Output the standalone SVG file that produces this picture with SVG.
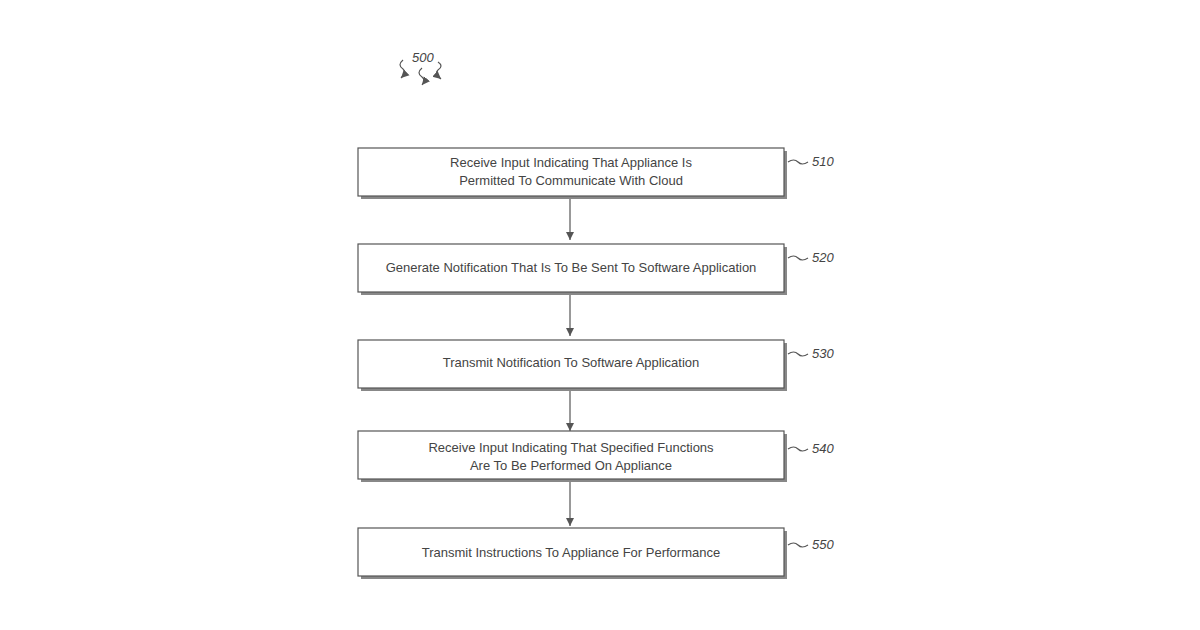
<svg xmlns="http://www.w3.org/2000/svg" width="1200" height="630" viewBox="0 0 1200 630">
<style>
.box{fill:#fff;stroke:#555;stroke-width:1.2}
.sh{fill:#888}
.t{font-family:"Liberation Sans",Arial,sans-serif;font-size:13px;fill:#444;text-anchor:middle}
.r{font-family:"Liberation Sans",Arial,sans-serif;font-size:13px;font-style:italic;fill:#444}
.c{fill:none;stroke:#555;stroke-width:1.2}
</style>
<defs><marker id="a" markerWidth="10" markerHeight="10" refX="8" refY="5" orient="auto" markerUnits="userSpaceOnUse"><path d="M0,1 L8,5 L0,9 z" fill="#555"/></marker></defs>
<rect width="1200" height="630" fill="#fff"/>
<g id="ref500">
<text class="r" x="412" y="62">500</text>
<path class="c" d="M403,60 q-6,5 0,9 q4,3 -2,9" marker-end="url(#a)"/>
<path class="c" d="M422,68 q-6,5 0,9 q4,3 0,8" marker-end="url(#a)"/>
<path class="c" d="M438,62 q6,4 0,8 q-4,3 3,9" marker-end="url(#a)"/>
</g>
<g id="connectors">
<path class="c" d="M570,196 V240" marker-end="url(#a)"/>
<path class="c" d="M570,292 V336" marker-end="url(#a)"/>
<path class="c" d="M570,388 V431" marker-end="url(#a)"/>
<path class="c" d="M570,482 V526" marker-end="url(#a)"/>
</g>
<g id="n510"><rect class="sh" x="361" y="151" width="426" height="48"/><rect class="box" x="358" y="148" width="426" height="48"/>
<text class="t" x="571" y="167">Receive Input Indicating That Appliance Is</text><text class="t" x="571" y="185">Permitted To Communicate With Cloud</text>
<path class="c" d="M788,162 q6,-4 10,0 t10,0"/><text class="r" x="812" y="166">510</text></g>
<g id="n520"><rect class="sh" x="361" y="247" width="426" height="48"/><rect class="box" x="358" y="244" width="426" height="48"/>
<text class="t" x="571" y="272">Generate Notification That Is To Be Sent To Software Application</text>
<path class="c" d="M788,258 q6,-4 10,0 t10,0"/><text class="r" x="812" y="262">520</text></g>
<g id="n530"><rect class="sh" x="361" y="343" width="426" height="48"/><rect class="box" x="358" y="340" width="426" height="48"/>
<text class="t" x="571" y="367">Transmit Notification To Software Application</text>
<path class="c" d="M788,354 q6,-4 10,0 t10,0"/><text class="r" x="812" y="358">530</text></g>
<g id="n540"><rect class="sh" x="361" y="434" width="426" height="48"/><rect class="box" x="358" y="431" width="426" height="48"/>
<text class="t" x="571" y="452">Receive Input Indicating That Specified Functions</text><text class="t" x="571" y="470">Are To Be Performed On Appliance</text>
<path class="c" d="M788,449 q6,-4 10,0 t10,0"/><text class="r" x="812" y="453">540</text></g>
<g id="n550"><rect class="sh" x="361" y="531" width="426" height="48"/><rect class="box" x="358" y="528" width="426" height="48"/>
<text class="t" x="571" y="557">Transmit Instructions To Appliance For Performance</text>
<path class="c" d="M788,545 q6,-4 10,0 t10,0"/><text class="r" x="812" y="549">550</text></g>
</svg>
